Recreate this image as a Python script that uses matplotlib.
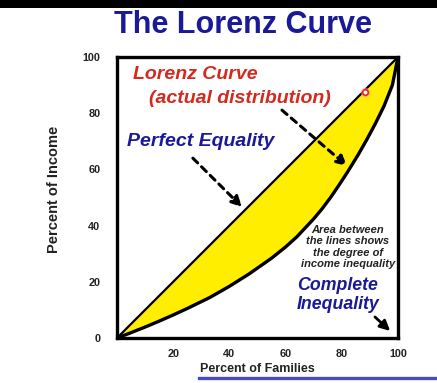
import matplotlib
matplotlib.use("Agg")
import matplotlib.pyplot as plt
from matplotlib.patches import Rectangle
from matplotlib.lines import Line2D

plt.rcParams['font.family'] = ['Liberation Sans', 'DejaVu Sans']

# percent of families vs percent of income
families = [0, 5, 10, 15, 20, 25, 33, 40, 47, 55, 60, 64, 70, 73, 76, 79, 82, 86, 89, 92, 95, 98, 100]
income = [0, 1.9, 3.9, 6, 8.2, 10.5, 14.4, 18.4, 22.8, 28.4, 32.4, 36, 42.4, 46, 50, 54.4, 59, 65.5, 70.8, 76.4, 82.5, 90, 100]
equality = [0, 100]
ticks = [20, 40, 60, 80, 100]

navy = '#1a1a98'
red = '#d42a1e'

fig = plt.figure(figsize=(4.37, 3.83), dpi=100)
fig.patch.set_facecolor('white')

# black strip along the top and blue rule under the x label
fig.add_artist(Rectangle((0, 1 - 8 / 383), 1, 8 / 383, transform=fig.transFigure,
                         facecolor='black', edgecolor='none'))
fig.add_artist(Line2D([199 / 437, 1], [1 - 378 / 383] * 2, transform=fig.transFigure,
                      color='#4a4ac4', lw=2.4))

fig.text(243 / 437, 1 - 25 / 383, 'The Lorenz Curve', ha='center', va='center',
         fontsize=22, fontweight='bold', color=navy)

ax = fig.add_axes([117 / 437, 1 - 338 / 383, 281 / 437, 281 / 383])
ax.set_xlim(0, 100)
ax.set_ylim(0, 100)

ax.fill_between(families, families, income, color='#ffee00', lw=0)
ax.plot(equality, equality, color='black', lw=1.6, solid_capstyle='round')
ax.plot(families, income, color='black', lw=2.4, solid_capstyle='round',
        solid_joinstyle='round')

for s in ax.spines.values():
    s.set_linewidth(2.4)
ax.set_xticks(ticks)
ax.set_yticks([0] + ticks)
ax.tick_params(length=0, labelsize=7.8, pad=12, labelcolor='#222222')
for lab in ax.get_xticklabels() + ax.get_yticklabels():
    lab.set_fontweight('bold')
ax.tick_params(axis='x', pad=8)

ax.set_xlabel('Percent of Families', fontsize=9, fontweight='bold', labelpad=3, color='#222222')
ax.set_ylabel('Percent of Income', fontsize=10.5, fontweight='bold', color='#222222')
ax.yaxis.set_label_coords(-0.2, 0.53)

txt = dict(fontweight='bold', style='italic', va='center')
ax.text(5.7, 93.6, 'Lorenz Curve', color=red, fontsize=14, **txt)
ax.text(11.4, 85.4, '(actual distribution)', color=red, fontsize=14, **txt)
ax.text(3.6, 69.8, 'Perfect Equality', color=navy, fontsize=14, **txt)
ax.text(82.2, 32.4, 'Area between\nthe lines shows\nthe degree of\nincome inequality',
        color='#222222', fontsize=8, ha='center', linespacing=1.2, **txt)
ax.text(64, 15.3, 'Complete\nInequality', color=navy, fontsize=12.8, ha='left',
        linespacing=1.1, **txt)

dash = dict(arrowstyle='-|>,head_length=0.6,head_width=0.3', color='black', lw=2.2,
            linestyle=(0, (2.2, 1.8)), shrinkA=0, shrinkB=0)
ax.annotate('', xy=(44.5, 46.6), xytext=(27, 64), arrowprops=dash)
ax.annotate('', xy=(81.9, 61.2), xytext=(58.7, 81.1), arrowprops=dash)
ax.annotate('', xy=(97.2, 2.5), xytext=(91.8, 7.5),
            arrowprops=dict(arrowstyle='-|>,head_length=0.6,head_width=0.3', color='black',
                            lw=2.0, shrinkA=0, shrinkB=0))

# red pointer on the equality line
ax.plot([88.3], [87.5], 'o', ms=7, mfc='#ff9090', mec='none', alpha=0.5)
ax.plot([88.3], [87.5], 'o', ms=4, mfc='white', mec='#ee2222', mew=1.2)

fig.savefig('out.png', dpi=100)
